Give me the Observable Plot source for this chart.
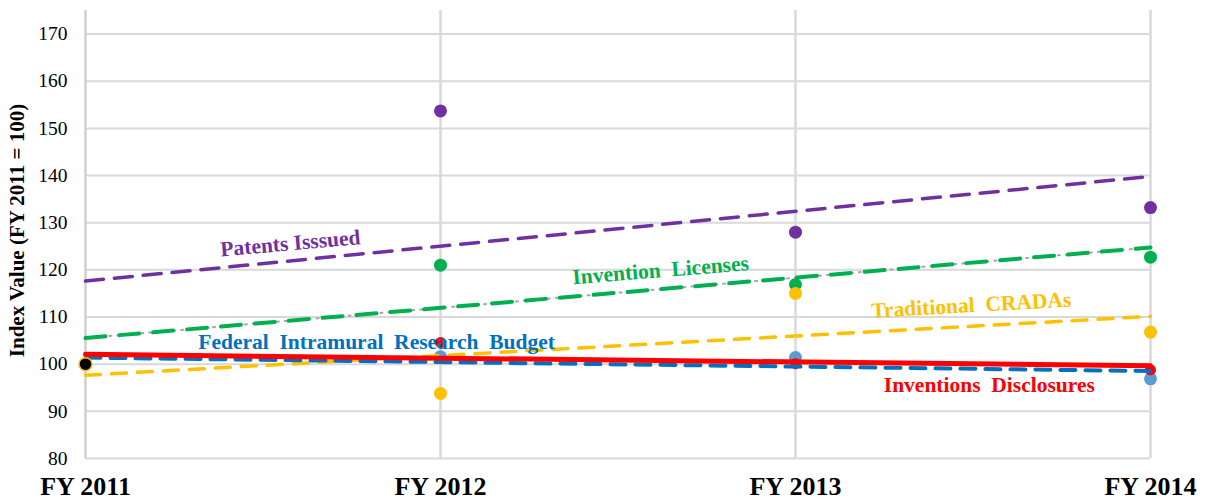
<!DOCTYPE html>
<html>
<head>
<meta charset="utf-8">
<script src="https://cdn.jsdelivr.net/npm/d3@7"></script>
<script src="https://cdn.jsdelivr.net/npm/@observablehq/plot@0.6"></script>
<style>
  html, body { margin: 0; padding: 0; background: #fff; }
  #chart svg { display: block; }
</style>
</head>
<body>
<div id="chart"></div>
<script>
// ---- data ----
const years = ["FY 2011", "FY 2012", "FY 2013", "FY 2014"];
const patentsIssued = [100, 153.7, 128.0, 133.2];
const inventionLicenses = [100, 121.0, 116.9, 122.7];
const traditionalCradas = [100, 93.8, 115.0, 106.8];
const inventionDisclosures = [100, 104.6, 100.1, 98.8];
const researchBudget = [100, 101.6, 101.4, 96.9];
const yTicks = [80, 90, 100, 110, 120, 130, 140, 150, 160, 170];

const seriesNames = ["Patents Isssued", "Invention  Licenses", "Traditional  CRADAs", "Inventions  Disclosures", "Federal  Intramural  Research  Budget"];
// label anchors (year index, index value) and angles
const labelX = [0.577, 1.62, 2.495, 2.546, 0.82];
const labelY = [125.6, 119.9, 112.5, 95.5, 104.6];
const labelAngle = [-5, -4.6, -3.2, 0, 0];

// ---- build tables ----
const toRows = vals => vals.map((v, i) => ({i, v}));
const P = toRows(patentsIssued);
const L = toRows(inventionLicenses);
const C = toRows(traditionalCradas);
const D = toRows(inventionDisclosures);
const B = toRows(researchBudget);
const labels = seriesNames.map((t, k) => ({t, x: labelX[k], y: labelY[k], a: labelAngle[k]}));
const labelColors = ["#7030A0", "#00B050", "#FFC000", "#FF0000", "#0070C0"];

const reg = (data, o) => Plot.linearRegressionY(data, {x: "i", y: "v", ci: 0, ...o});

const chart = Plot.plot({
  width: 1209,
  height: 502,
  marginLeft: 85,
  marginRight: 59,
  marginTop: 10,
  marginBottom: 44,
  style: {fontFamily: "'Liberation Serif', 'Times New Roman', serif", fontSize: "19px", color: "#000", background: "#fff"},
  x: {domain: [0, 3], label: null},
  y: {domain: [80, 175], label: null},
  marks: [
    Plot.gridY(yTicks, {stroke: "#d9d9d9", strokeOpacity: 1, strokeWidth: 2}),
    Plot.gridX([1, 2, 3], {stroke: "#d9d9d9", strokeOpacity: 1, strokeWidth: 2.5}),
    Plot.ruleX([0], {stroke: "#cfcfcf", strokeWidth: 2.5}),
    Plot.axisY(yTicks, {tickSize: 0, tickPadding: 18, fontSize: 19.5, label: null}),
    Plot.axisX([0, 1, 2, 3], {tickSize: 0, tickPadding: 18, fontSize: 26, fontWeight: "bold", tickFormat: i => years[i], label: null}),
    Plot.text(["Index Value (FY 2011 = 100)"], {frameAnchor: "left", textAnchor: "middle", rotate: -90, dx: -68, dy: -4, fontSize: 21, fontWeight: "bold", fill: "#000"}),
    // points
    Plot.dot(P, {x: "i", y: "v", r: 6.5, fill: "#7030A0"}),
    Plot.dot(L, {x: "i", y: "v", r: 6.5, fill: "#00B050"}),
    Plot.dot(C, {x: "i", y: "v", r: 6.5, fill: "#FFC000"}),
    Plot.dot(B, {x: "i", y: "v", r: 6.5, fill: "#5B9BD5"}),
    Plot.dot(D, {x: "i", y: "v", r: 5.5, fill: "#FF0000"}),
    // trend lines
    reg(P, {stroke: "#7030A0", strokeWidth: 3.5, strokeDasharray: "18,11"}),
    reg(L, {stroke: "#a6a6a6", strokeWidth: 2, strokeDasharray: "2,6"}),
    reg(L, {stroke: "#00B050", strokeWidth: 4, strokeDasharray: "20,14"}),
    reg(C, {stroke: "#FFC000", strokeWidth: 3.5, strokeDasharray: "15,11"}),
    reg(B, {stroke: "#0070C0", strokeWidth: 4, strokeDasharray: "15,10"}),
    reg(D, {stroke: "#FF0000", strokeWidth: 5}),
    // FY 2011 common point
    Plot.dot([P[0]], {x: "i", y: "v", r: 6.5, fill: "#000", stroke: "#FFC000", strokeWidth: 1.5}),
    // series labels
    Plot.text(labels, {x: "x", y: "y", text: "t", rotate: "a", fill: (d, k) => labelColors[k], fontSize: 21.5, fontWeight: "bold"})
  ]
});
document.getElementById("chart").appendChild(chart);
</script>
</body>
</html>
